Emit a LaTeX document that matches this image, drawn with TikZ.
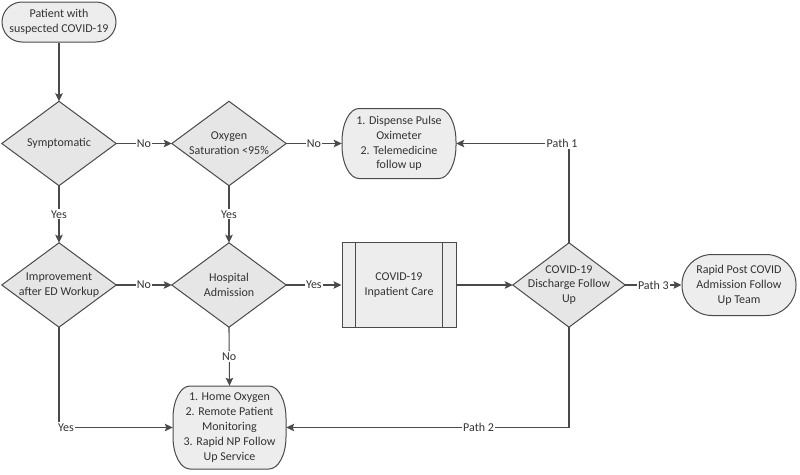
\documentclass[tikz,border=0pt]{standalone}
\usepackage{fontspec}
\setmainfont{Carlito}
\usetikzlibrary{arrows.meta,backgrounds,calc}
\definecolor{ln}{HTML}{4A4A4A}
\definecolor{fl}{HTML}{EDEDED}
\definecolor{dfl}{HTML}{E6E6E6}
\definecolor{tx}{HTML}{333333}
% #1 node, #2 half width, #3 half height, #4 x radius, #5 y radius
\newcommand\mysoftshape[5]{%
  \path[draw=ln, fill=fl, line width=1pt]
    ($(#1.center)+(-#2+#4,-#3)$) -- ++({2*#2-2*#4},0)
    arc[start angle=270, end angle=360, x radius=#4, y radius=#5]
    -- ++(0,{2*#3-2*#5})
    arc[start angle=0, end angle=90, x radius=#4, y radius=#5]
    -- ++({-2*#2+2*#4},0)
    arc[start angle=90, end angle=180, x radius=#4, y radius=#5]
    -- ++(0,{-2*#3+2*#5})
    arc[start angle=180, end angle=270, x radius=#4, y radius=#5]
    -- cycle;}
\begin{document}
\begin{tikzpicture}[x=1pt,y=-1pt,
  font=\fontsize{12}{14.8}\selectfont,
  every node/.style={align=center, inner sep=0pt, text=tx},
  box/.style={draw=ln, fill=fl, line width=1pt, rectangle, minimum width=114pt},
  softbox/.style={rectangle, minimum width=114pt},
  diabox/.style={rectangle, minimum width=114pt, minimum height=84pt},
  diafill/.style={draw=ln, fill=dfl, line width=1pt, line join=miter},
  arr/.style={draw=ln, line width=1.1pt, -{Stealth[length=8pt,width=7.5pt,inset=1.5pt]}},
  lab/.style={fill=white, inner sep=1.2pt}
]
\useasboundingbox (0,0) rectangle (800,474);

% nodes
\node[box, minimum height=40pt, rounded corners=20pt] (start) at (59,22) {Patient with\\suspected COVID-19};
\node[diabox] (sym) at (59,143.5) {Symptomatic};
\node[diabox] (oxy) at (229,143.5) {Oxygen\\Saturation <95\%};
\node[softbox, minimum height=70pt] (disp) at (399,143.5) {1. Dispense Pulse\\Oximeter\\2. Telemedicine\\follow up};
\node[diabox] (imp) at (59,285) {Improvement\\after ED Workup};
\node[diabox] (hosp) at (229,285) {Hospital\\Admission};
\node[box, minimum height=85pt] (inp) at (399,285) {COVID-19\\Inpatient Care};
\node[diabox, minimum width=112pt] (dis) at (569,285) {COVID-19\\Discharge Follow\\Up};
\node[box, minimum height=61pt, rounded corners=30pt] (rap) at (739,285) {Rapid Post COVID\\Admission Follow\\Up Team};
\node[softbox, minimum width=113pt, minimum height=83pt] (home) at (229.5,427.5) {1. Home Oxygen\\2. Remote Patient\\Monitoring\\3. Rapid NP Follow\\Up Service};

\draw[ln, line width=1pt] ($(inp.north west)+(14,0)$) -- ($(inp.south west)+(14,0)$);
\draw[ln, line width=1pt] ($(inp.north east)+(-14,0)$) -- ($(inp.south east)+(-14,0)$);

\begin{scope}[on background layer]
\fill[white] (0,0) rectangle (800,474);
\foreach \n in {sym,oxy,imp,hosp,dis}
  \path[diafill] (\n.west) -- (\n.north) -- (\n.east) -- (\n.south) -- cycle;
\mysoftshape{disp}{57}{35}{17}{33}
\mysoftshape{home}{56.5}{41.5}{17}{32}
\end{scope}

% connectors
\draw[arr] (start.south) -- (sym.north);
\draw[arr] (sym.east) -- node[lab]{No} (oxy.west);
\draw[arr] (oxy.east) -- node[lab]{No} (disp.west);
\draw[arr] (sym.south) -- node[lab]{Yes} (imp.north);
\draw[arr] (oxy.south) -- node[lab]{Yes} (hosp.north);
\draw[arr] (imp.east) -- node[lab]{No} (hosp.west);
\draw[arr] (hosp.east) -- node[lab]{Yes} (inp.west);
\draw[arr] (inp.east) -- (dis.west);
\draw[arr] (dis.east) -- node[lab]{Path 3} (rap.west);
\draw[arr] (hosp.south) -- node[lab]{No} (home.north);
\draw[arr] (dis.north) |- node[lab, pos=0.5, xshift=-7pt]{Path 1} (disp.east);
\draw[arr] (dis.south) |- node[lab, pos=0.66]{Path 2} (home.east);
\draw[arr] (imp.south) |- node[lab, pos=0.5, xshift=7pt]{Yes} (home.west);
\end{tikzpicture}
\end{document}
